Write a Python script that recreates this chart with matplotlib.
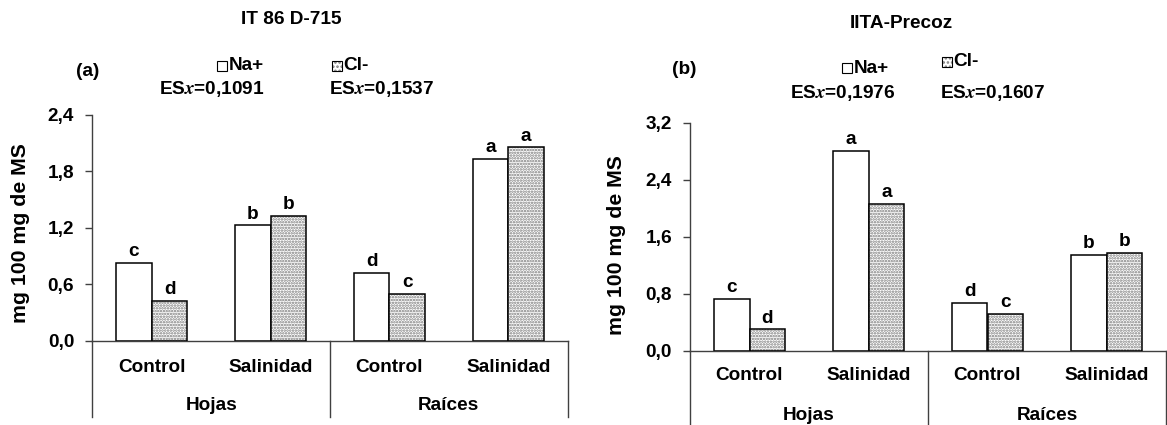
import matplotlib
matplotlib.use("Agg")
import matplotlib.pyplot as plt
import matplotlib.transforms as mtransforms
from matplotlib.patches import Rectangle
from matplotlib.lines import Line2D

plt.rcParams['font.family'] = ['Liberation Sans', 'DejaVu Sans']
plt.rcParams['font.weight'] = 'bold'
plt.rcParams['font.size'] = 13.7
plt.rcParams['mathtext.fontset'] = 'stix'
plt.rcParams['hatch.linewidth'] = 1.2

categorias = ["Control", "Salinidad", "Control", "Salinidad"]
organos = ["Hojas", "Raíces"]

# IT 86 D-715
na_a = [0.83, 1.225, 0.72, 1.93]
cl_a = [0.42, 1.33, 0.50, 2.055]
letras_na_a = ["c", "b", "d", "a"]
letras_cl_a = ["d", "b", "c", "a"]
es_a = ["0,1091", "0,1537"]

# IITA-Precoz
na_b = [0.73, 2.81, 0.667, 1.345]
cl_b = [0.30, 2.06, 0.52, 1.38]
letras_na_b = ["c", "a", "d", "b"]
letras_cl_b = ["d", "a", "c", "b"]
es_b = ["0,1976", "0,1607"]

W, H = 1167, 425
fig = plt.figure(figsize=(W / 100, H / 100), dpi=100)


def fx(px):
    return px / W


def fy(py):
    return 1 - py / H


def panel(rect, na, cl, ln, lc, yticks, y_cat, y_grp, y_line_end):
    ax = fig.add_axes(rect)
    x = range(len(categorias))
    ancho = 0.3
    xn = [i - ancho / 2 for i in x]
    xc = [i + ancho / 2 for i in x]
    ax.bar(xn, na, ancho, color="white", edgecolor="black", linewidth=1.1, zorder=2)
    ax.bar(xc, cl, ancho, color="white", edgecolor="#7a7a7a", hatch="......", linewidth=0, zorder=2)
    ax.bar(xc, cl, ancho, fill=False, edgecolor="black", linewidth=1.1, zorder=3)
    for xi, v, t in zip(xn, na, ln):
        ax.annotate(t, (xi, v), xytext=(0, 2), textcoords="offset points", ha="center", va="bottom")
    for xi, v, t in zip(xc, cl, lc):
        ax.annotate(t, (xi, v), xytext=(0, 2), textcoords="offset points", ha="center", va="bottom")

    ax.set_xlim(-0.5, 3.5)
    ax.set_ylim(0, yticks[-1])
    ax.set_yticks(yticks)
    ax.set_yticklabels([f"{t:.1f}".replace(".", ",") for t in yticks])
    ax.tick_params(axis="y", length=5, width=1, color="#404040", pad=8)
    ax.set_xticks([])
    for s in ["top", "right"]:
        ax.spines[s].set_visible(False)
    ax.spines["left"].set_color("#404040")
    ax.spines["bottom"].set_color("#404040")
    ax.spines["left"].set_linewidth(1)
    ax.spines["bottom"].set_linewidth(1)

    # category axis below the plot
    tr = mtransforms.blended_transform_factory(ax.transData, fig.transFigure)
    for i, c in enumerate(categorias):
        ax.text(i, fy(y_cat), c, transform=tr, ha="center", va="center")
    for j, g in enumerate(organos):
        ax.text(2 * j + 0.5, fy(y_grp), g, transform=tr, ha="center", va="center")
    y0 = ax.get_position().y0
    for xv in [-0.5, 1.5, 3.5]:
        ax.add_line(Line2D([xv, xv], [y0, fy(y_line_end)], transform=tr,
                           color="#404040", linewidth=1, clip_on=False))
    return ax


panel([fx(92.3), fy(340.7), fx(567.7) - fx(92.3), fy(115) - fy(340.7)],
      na_a, cl_a, letras_na_a, letras_cl_a, [0.0, 0.6, 1.2, 1.8, 2.4], 367, 405, 417)
panel([fx(690), fy(350.7), fx(1166) - fx(690), fy(123) - fy(350.7)],
      na_b, cl_b, letras_na_b, letras_cl_b, [0.0, 0.8, 1.6, 2.4, 3.2], 376, 415, 425)

ylab = "mg 100 mg de MS"
fig.text(fx(21), fy(233), ylab, rotation=90, ha="center", va="center", fontsize=15.3)
fig.text(fx(617), fy(245), ylab, rotation=90, ha="center", va="center", fontsize=15.3)

fig.text(fx(291.7), fy(20), "IT 86 D-715", ha="center", va="center")
fig.text(fx(901.7), fy(23.3), "IITA-Precoz", ha="center", va="center")
fig.text(fx(88), fy(71.7), "(a)", ha="center", va="center")
fig.text(fx(684), fy(70), "(b)", ha="center", va="center")


def leyenda(x_na, y_na, x_cl, y_cl, x_es_na, x_es_cl, y_es, es):
    s = 10
    fig.patches.append(Rectangle((fx(x_na), fy(y_na + s / 2)), s / W, s / H, transform=fig.transFigure,
                                 facecolor="white", edgecolor="black", linewidth=0.8))
    fig.text(fx(x_na + s + 2), fy(y_na), "Na+", ha="left", va="center")
    fig.patches.append(Rectangle((fx(x_cl), fy(y_cl + s / 2)), s / W, s / H, transform=fig.transFigure,
                                 facecolor="white", edgecolor="#7a7a7a", hatch="....", linewidth=0))
    fig.patches.append(Rectangle((fx(x_cl), fy(y_cl + s / 2)), s / W, s / H, transform=fig.transFigure,
                                 fill=False, edgecolor="black", linewidth=0.8))
    fig.text(fx(x_cl + s + 2), fy(y_cl), "Cl-", ha="left", va="center")
    fig.text(fx(x_es_na), fy(y_es), r"ES$\mathit{x}$=" + es[0], ha="right", va="center")
    fig.text(fx(x_es_cl), fy(y_es), r"ES$\mathit{x}$=" + es[1], ha="left", va="center")


leyenda(216.7, 65.7, 331.7, 65.7, 265, 329.3, 89.3, es_a)
leyenda(841.7, 68.3, 941.7, 61.7, 895, 940, 93.3, es_b)

fig.savefig("out.png", dpi=100)
